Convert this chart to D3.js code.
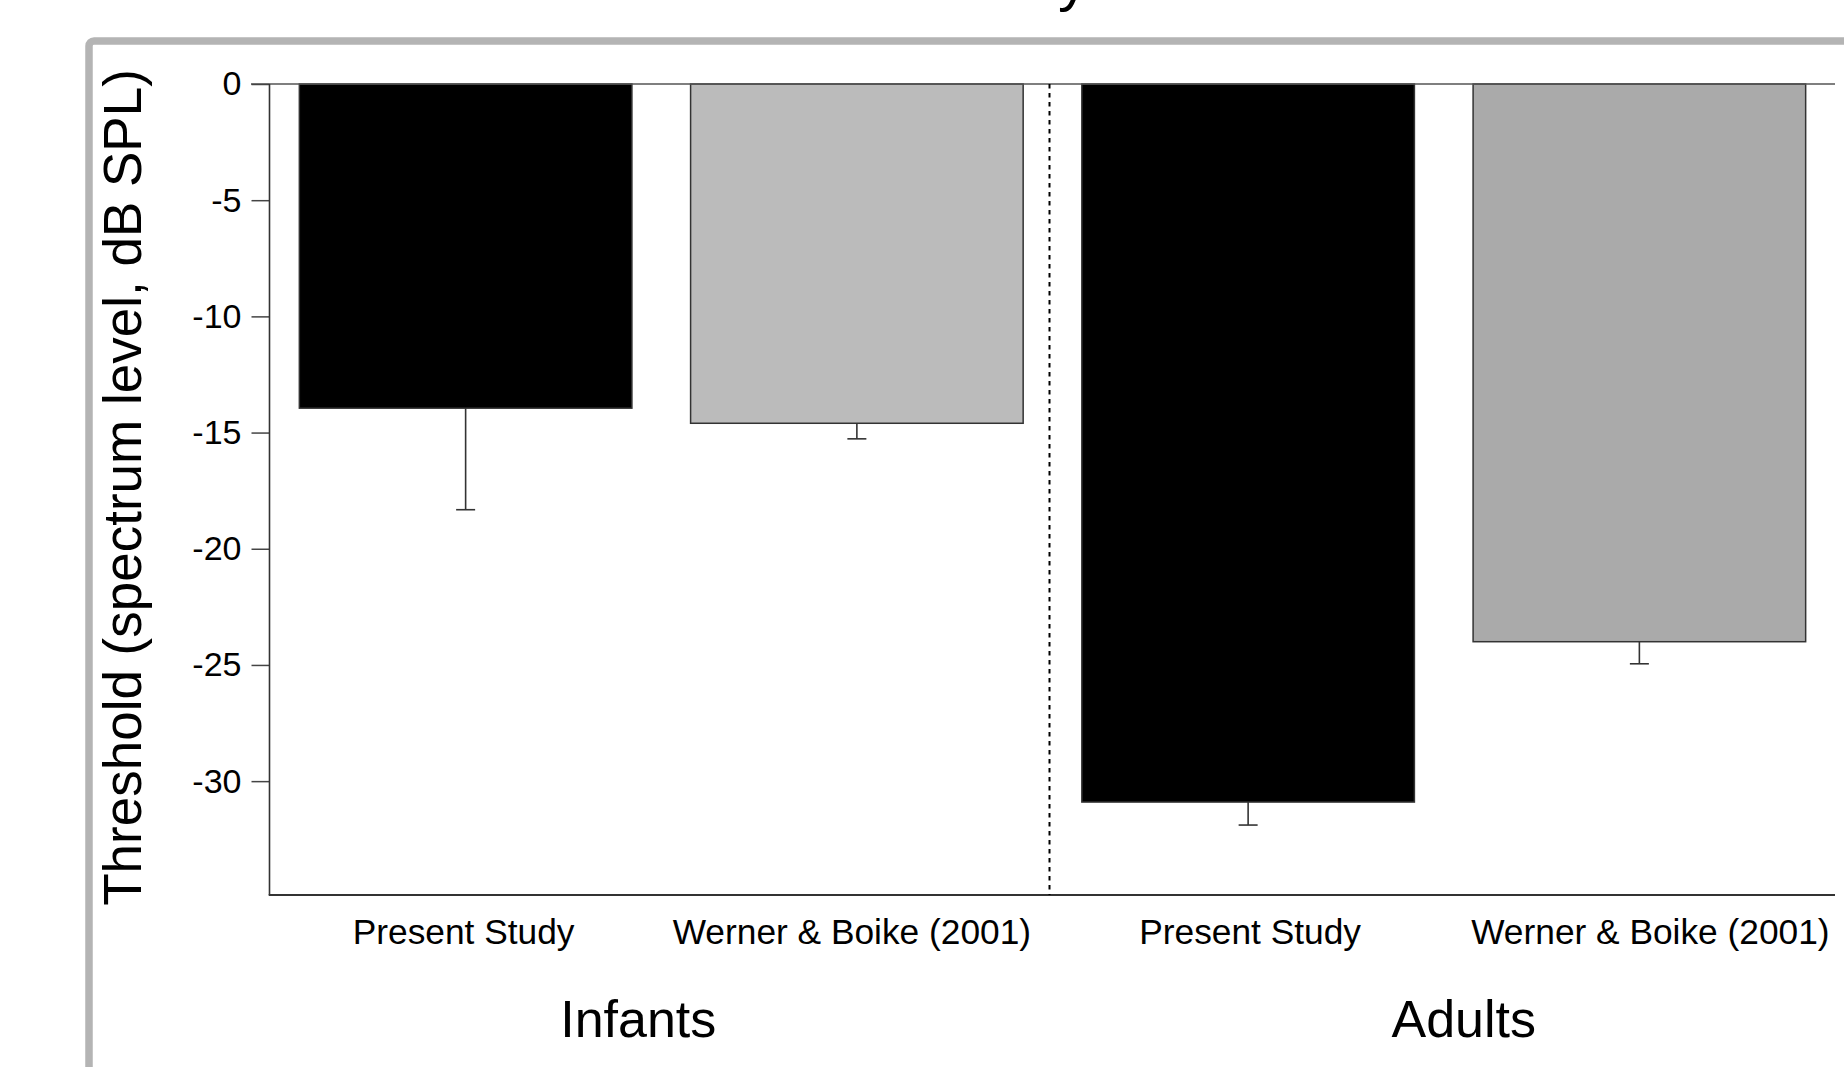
<!DOCTYPE html>
<html>
<head>
<meta charset="utf-8">
<script src="https://cdn.jsdelivr.net/npm/d3@7"></script>
<style>
  html, body { margin: 0; padding: 0; background: #fff; overflow: hidden; }
  svg { display: block; }
  text { font-family: "Liberation Sans", Arial, sans-serif; fill: #000; }
</style>
</head>
<body>
<svg id="chart" width="1844" height="1067"></svg>
<script>
// ---- data ----
const categories = ["Present Study", "Werner & Boike (2001)", "Present Study", "Werner & Boike (2001)"];
const barGroups = ["Infants", "Infants", "Adults", "Adults"];
const groups = ["Infants", "Adults"];
const thresholds = [-13.95, -14.6, -30.9, -24.0];
const errors = [4.37, 0.67, 0.99, 0.95];
const barColors = ["#000000", "#bbbbbb", "#000000", "#aaaaaa"];
const yTicks = [0, -5, -10, -15, -20, -25, -30];
const yTickLabels = ["0", "-5", "-10", "-15", "-20", "-25", "-30"];
const yDomain = [-34.9, 0];
const titleFragment = "y";
const yTitle = "Threshold (spectrum level, dB SPL)";

(function () {
// ---- layout ----
const mLeft = 270, mRight = 1835, mTop = 84, mBottom = 895;
const svg = d3.select("#chart");

// frame
svg.append("rect")
  .attr("x", 89).attr("y", 41)
  .attr("width", 2000).attr("height", 2000)
  .attr("rx", 5).attr("ry", 5)
  .attr("fill", "#fff")
  .attr("stroke", "#b4b4b4").attr("stroke-width", 7.5);

// title fragment (only descender visible, title is cut off at the top edge)
svg.append("text")
  .attr("x", 1058).attr("y", 0)
  .attr("font-size", 60)
  .text(titleFragment);

const idx = categories.map((d, i) => i);
const x = d3.scaleBand().domain(idx).range([mLeft, mRight])
  .paddingInner(0.15).paddingOuter(0.075);
const y = d3.scaleLinear().domain(yDomain).range([mBottom, mTop]);

// bars
svg.append("g").selectAll("rect")
  .data(idx).join("rect")
  .attr("x", i => x(i))
  .attr("y", i => y(0))
  .attr("width", x.bandwidth())
  .attr("height", i => y(thresholds[i]) - y(0))
  .attr("fill", i => barColors[i])
  .attr("stroke", "#333").attr("stroke-width", 1.5);

// error bars
const eg = svg.append("g").attr("stroke", "#333").attr("stroke-width", 1.6);
idx.forEach(i => {
  const cx = x(i) + x.bandwidth() / 2;
  eg.append("line")
    .attr("x1", cx).attr("x2", cx)
    .attr("y1", y(thresholds[i])).attr("y2", y(thresholds[i] - errors[i]));
  eg.append("line")
    .attr("x1", cx - 9.5).attr("x2", cx + 9.5)
    .attr("y1", y(thresholds[i] - errors[i])).attr("y2", y(thresholds[i] - errors[i]));
});

// zero reference line
svg.append("line")
  .attr("x1", mLeft - 19).attr("x2", mRight)
  .attr("y1", y(0)).attr("y2", y(0))
  .attr("stroke", "#555").attr("stroke-width", 1.6);

// y axis
const yAxis = d3.axisLeft(y).tickValues(yTicks).tickSize(18).tickPadding(10)
  .tickFormat((d, i) => yTickLabels[i]);
const ya = svg.append("g").attr("transform", `translate(${mLeft - 0.5},0)`).call(yAxis);
ya.select(".domain").remove();
ya.selectAll(".tick line").attr("stroke", "#444").attr("stroke-width", 1.5);
ya.selectAll(".tick text")
  .attr("font-size", 34)
  .attr("font-family", "Liberation Sans, Arial, sans-serif")
  .attr("fill", "#000");
svg.append("line")
  .attr("x1", mLeft - 0.5).attr("x2", mLeft - 0.5)
  .attr("y1", y(0)).attr("y2", mBottom)
  .attr("stroke", "#333").attr("stroke-width", 1.6);

// x axis baseline
svg.append("line")
  .attr("x1", mLeft - 1.3).attr("x2", mRight)
  .attr("y1", mBottom).attr("y2", mBottom)
  .attr("stroke", "#333").attr("stroke-width", 2);

// divider between groups
const divX = (x(1) + x.bandwidth() + x(2)) / 2 - 3;
svg.append("line")
  .attr("x1", divX).attr("x2", divX)
  .attr("y1", y(0)).attr("y2", mBottom)
  .attr("stroke", "#000").attr("stroke-width", 2)
  .attr("stroke-dasharray", "4.5,4.5");

// category labels
const labelShift = [-2, -5, 2, 11];
svg.append("g").selectAll("text")
  .data(idx).join("text")
  .attr("x", i => x(i) + x.bandwidth() / 2 + labelShift[i])
  .attr("y", 944)
  .attr("text-anchor", "middle")
  .attr("font-size", 35.3)
  .text(i => categories[i]);

// group labels
const groupShift = [-23, 20];
svg.append("g").selectAll("text")
  .data(groups).join("text")
  .attr("x", (g, gi) => {
    const members = idx.filter(i => barGroups[i] === g);
    const c = d3.mean(members, i => x(i) + x.bandwidth() / 2);
    return c + groupShift[gi];
  })
  .attr("y", 1037)
  .attr("text-anchor", "middle")
  .attr("font-size", 52)
  .text(g => g);

// y title
svg.append("text")
  .attr("transform", `translate(141,487.5) rotate(-90)`)
  .attr("text-anchor", "middle")
  .attr("font-size", 53)
  .text(yTitle);
})();
</script>
</body>
</html>
